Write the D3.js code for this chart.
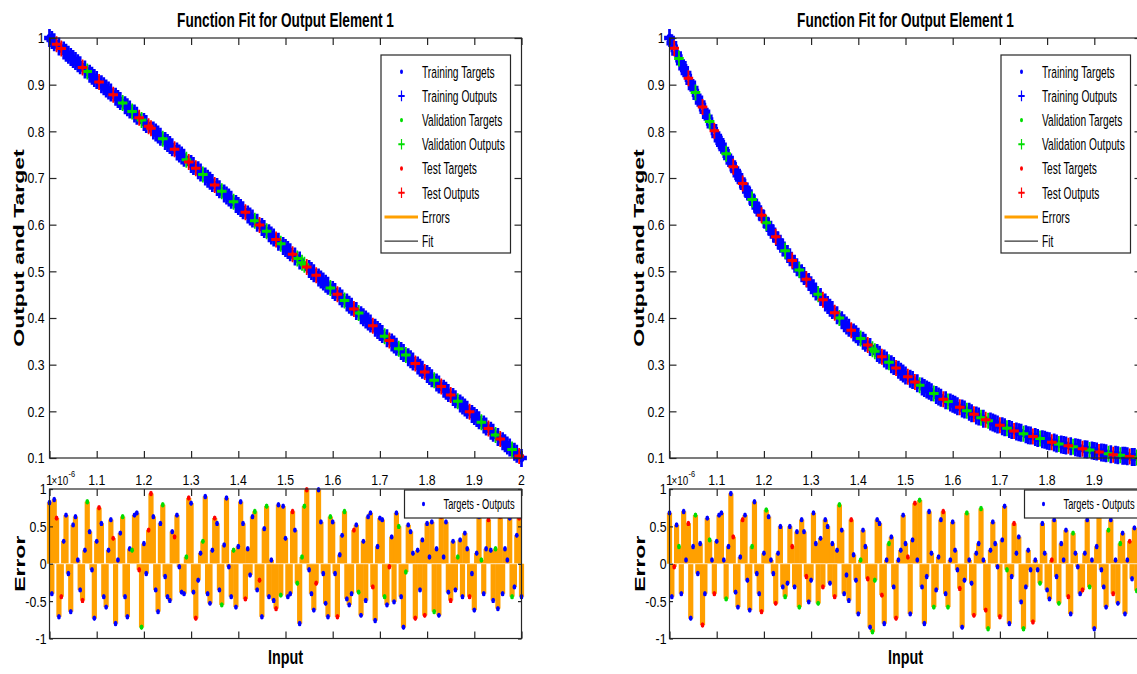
<!DOCTYPE html>
<html>
<head>
<meta charset="utf-8">
<script src="https://cdn.jsdelivr.net/npm/d3@7"></script>
<style>
  html, body { margin: 0; padding: 0; background: #fff; }
  svg { display: block; }
</style>
</head>
<body>
<script>
// ---------------- data ----------------
// Input samples (x 1e-6), shared by the fit and error plots
const inputs = [1.000,1.005,1.010,1.015,1.020,1.025,1.030,1.035,1.040,1.045,1.050,1.055,1.060,1.065,1.070,1.075,1.080,1.085,1.090,1.095,
1.100,1.105,1.110,1.115,1.120,1.125,1.130,1.135,1.140,1.145,1.150,1.155,1.160,1.165,1.170,1.175,1.180,1.185,1.190,1.195,
1.200,1.205,1.210,1.215,1.220,1.225,1.230,1.235,1.240,1.245,1.250,1.255,1.260,1.265,1.270,1.275,1.280,1.285,1.290,1.295,
1.300,1.305,1.310,1.315,1.320,1.325,1.330,1.335,1.340,1.345,1.350,1.355,1.360,1.365,1.370,1.375,1.380,1.385,1.390,1.395,
1.400,1.405,1.410,1.415,1.420,1.425,1.430,1.435,1.440,1.445,1.450,1.455,1.460,1.465,1.470,1.475,1.480,1.485,1.490,1.495,
1.500,1.505,1.510,1.515,1.520,1.525,1.530,1.535,1.540,1.545,1.550,1.555,1.560,1.565,1.570,1.575,1.580,1.585,1.590,1.595,
1.600,1.605,1.610,1.615,1.620,1.625,1.630,1.635,1.640,1.645,1.650,1.655,1.660,1.665,1.670,1.675,1.680,1.685,1.690,1.695,
1.700,1.705,1.710,1.715,1.720,1.725,1.730,1.735,1.740,1.745,1.750,1.755,1.760,1.765,1.770,1.775,1.780,1.785,1.790,1.795,
1.800,1.805,1.810,1.815,1.820,1.825,1.830,1.835,1.840,1.845,1.850,1.855,1.860,1.865,1.870,1.875,1.880,1.885,1.890,1.895,
1.900,1.905,1.910,1.915,1.920,1.925,1.930,1.935,1.940,1.945,1.950,1.955,1.960,1.965,1.970,1.975,1.980,1.985,1.990,1.995,2.000];

// Targets of the left (linear) network
const targetsLinear = [1.0000,0.9955,0.9910,0.9865,0.9820,0.9775,0.9730,0.9685,0.9640,0.9595,
0.9550,0.9505,0.9460,0.9415,0.9370,0.9325,0.9280,0.9235,0.9190,0.9145,
0.9100,0.9055,0.9010,0.8965,0.8920,0.8875,0.8830,0.8785,0.8740,0.8695,
0.8650,0.8605,0.8560,0.8515,0.8470,0.8425,0.8380,0.8335,0.8290,0.8245,
0.8200,0.8155,0.8110,0.8065,0.8020,0.7975,0.7930,0.7885,0.7840,0.7795,
0.7750,0.7705,0.7660,0.7615,0.7570,0.7525,0.7480,0.7435,0.7390,0.7345,
0.7300,0.7255,0.7210,0.7165,0.7120,0.7075,0.7030,0.6985,0.6940,0.6895,
0.6850,0.6805,0.6760,0.6715,0.6670,0.6625,0.6580,0.6535,0.6490,0.6445,
0.6400,0.6355,0.6310,0.6265,0.6220,0.6175,0.6130,0.6085,0.6040,0.5995,
0.5950,0.5905,0.5860,0.5815,0.5770,0.5725,0.5680,0.5635,0.5590,0.5545,
0.5500,0.5455,0.5410,0.5365,0.5320,0.5275,0.5230,0.5185,0.5140,0.5095,
0.5050,0.5005,0.4960,0.4915,0.4870,0.4825,0.4780,0.4735,0.4690,0.4645,
0.4600,0.4555,0.4510,0.4465,0.4420,0.4375,0.4330,0.4285,0.4240,0.4195,
0.4150,0.4105,0.4060,0.4015,0.3970,0.3925,0.3880,0.3835,0.3790,0.3745,
0.3700,0.3655,0.3610,0.3565,0.3520,0.3475,0.3430,0.3385,0.3340,0.3295,
0.3250,0.3205,0.3160,0.3115,0.3070,0.3025,0.2980,0.2935,0.2890,0.2845,
0.2800,0.2755,0.2710,0.2665,0.2620,0.2575,0.2530,0.2485,0.2440,0.2395,
0.2350,0.2305,0.2260,0.2215,0.2170,0.2125,0.2080,0.2035,0.1990,0.1945,
0.1900,0.1855,0.1810,0.1765,0.1720,0.1675,0.1630,0.1585,0.1540,0.1495,
0.1450,0.1405,0.1360,0.1315,0.1270,0.1225,0.1180,0.1135,0.1090,0.1045,
0.1000];

// Targets of the right (decaying) network
const targetsDecay = [1.000,0.989,0.978,0.967,0.956,0.946,0.935,0.925,0.914,0.904,
0.893,0.883,0.872,0.862,0.852,0.842,0.831,0.821,0.811,0.801,
0.790,0.781,0.771,0.762,0.752,0.743,0.733,0.724,0.715,0.706,
0.697,0.688,0.679,0.671,0.662,0.654,0.645,0.637,0.628,0.620,
0.612,0.604,0.596,0.589,0.581,0.574,0.566,0.559,0.551,0.544,
0.537,0.530,0.523,0.516,0.509,0.503,0.496,0.490,0.483,0.477,
0.470,0.464,0.457,0.451,0.445,0.439,0.433,0.428,0.422,0.417,
0.411,0.406,0.400,0.395,0.389,0.384,0.379,0.374,0.369,0.365,
0.360,0.356,0.351,0.347,0.342,0.338,0.333,0.329,0.325,0.321,
0.317,0.313,0.309,0.305,0.301,0.297,0.293,0.289,0.285,0.281,
0.277,0.274,0.270,0.267,0.263,0.260,0.256,0.253,0.250,0.247,
0.244,0.241,0.238,0.235,0.232,0.229,0.226,0.224,0.221,0.219,
0.216,0.214,0.211,0.209,0.206,0.204,0.201,0.199,0.196,0.194,
0.191,0.189,0.186,0.184,0.182,0.180,0.178,0.176,0.174,0.172,
0.170,0.168,0.166,0.164,0.162,0.160,0.158,0.157,0.155,0.154,
0.152,0.151,0.149,0.148,0.146,0.145,0.143,0.142,0.140,0.139,
0.137,0.136,0.134,0.133,0.131,0.130,0.129,0.128,0.127,0.126,
0.125,0.124,0.123,0.122,0.121,0.120,0.119,0.118,0.117,0.116,
0.115,0.114,0.113,0.112,0.111,0.110,0.109,0.108,0.107,0.107,
0.106,0.106,0.105,0.105,0.104,0.103,0.102,0.102,0.101,0.101,
0.100];

// Targets - Outputs, left network
const errorsLinear = [0.82,-0.40,0.86,0.61,-0.71,-0.44,0.30,0.65,-0.13,-0.64,
0.52,0.63,0.05,-0.35,-0.49,0.18,0.83,0.43,-0.08,-0.73,
0.30,0.75,0.54,-0.44,-0.58,0.18,0.59,0.34,-0.80,0.05,
0.41,0.63,-0.44,-0.71,0.20,0.18,0.65,0.68,-0.08,-0.85,
0.27,-0.13,0.45,0.94,0.63,-0.35,-0.64,0.54,0.79,-0.17,
-0.44,-0.49,0.43,0.36,0.65,-0.04,-0.38,-0.40,0.09,0.88,
0.81,-0.38,-0.73,-0.22,0.14,0.30,0.90,-0.40,-0.53,0.18,
0.61,0.54,-0.35,-0.55,0.25,0.88,-0.04,-0.44,0.18,-0.58,
0.23,0.83,0.54,-0.47,0.20,-0.15,0.63,0.70,-0.35,-0.22,
-0.71,0.47,0.77,-0.44,0.05,-0.49,-0.60,0.79,-0.42,0.77,
0.34,-0.44,-0.40,0.70,0.45,-0.26,-0.80,0.09,0.77,0.99,
-0.08,-0.40,-0.62,-0.26,0.99,0.56,-0.13,-0.53,-0.71,0.63,
0.56,-0.13,-0.71,0.12,0.38,0.70,-0.47,-0.55,-0.40,0.45,
0.52,-0.38,-0.69,0.30,-0.49,0.63,0.68,-0.31,-0.76,0.23,
0.61,0.59,-0.44,-0.55,-0.04,0.36,-0.51,0.68,0.50,-0.44,
-0.85,-0.11,0.52,0.43,0.14,-0.73,0.18,-0.35,0.32,-0.69,
0.54,0.09,0.56,-0.64,0.20,-0.69,0.63,0.09,0.56,-0.38,
-0.49,0.30,-0.35,0.09,0.32,-0.44,0.41,0.20,-0.44,-0.13,
-0.62,0.14,0.63,0.05,-0.40,0.20,0.59,0.18,-0.49,0.20,
-0.60,0.63,-0.40,0.20,0.05,0.61,-0.44,-0.31,0.38,0.61,
-0.44];

// Targets - Outputs, right network
const errorsDecay = [0.68,-0.44,-0.04,0.52,0.23,-0.40,0.70,0.05,0.54,-0.73,
0.23,0.65,-0.13,0.27,-0.82,-0.40,0.61,0.32,0.05,-0.40,
0.30,0.65,0.68,0.05,-0.47,0.23,0.94,0.36,-0.38,-0.58,
0.09,0.59,0.65,-0.22,-0.62,0.23,0.83,-0.13,-0.40,-0.64,
0.14,0.72,0.63,0.05,-0.13,-0.53,0.14,0.50,-0.31,-0.44,
-0.26,0.50,0.23,-0.31,0.43,-0.58,0.59,0.43,-0.17,-0.51,
-0.22,0.68,0.27,-0.53,0.34,-0.31,0.59,0.50,-0.26,0.27,
-0.44,0.18,0.79,0.45,-0.40,-0.15,-0.49,0.59,0.12,-0.22,
-0.67,0.05,0.45,0.23,-0.20,-0.85,-0.91,-0.22,0.59,0.54,
-0.42,-0.80,0.05,0.27,0.36,-0.31,-0.73,0.05,0.18,0.65,
0.27,0.09,-0.67,0.32,0.81,0.05,0.85,-0.31,-0.80,-0.17,
0.70,0.14,-0.58,-0.35,0.09,0.59,0.70,-0.40,-0.58,0.05,
0.56,0.18,-0.08,-0.33,-0.85,-0.22,0.68,0.05,-0.26,-0.69,
0.14,0.27,0.74,0.05,-0.62,-0.87,0.18,0.56,0.27,-0.04,
-0.71,0.32,0.77,-0.08,-0.80,-0.17,0.54,0.14,0.36,-0.51,
-0.87,-0.31,0.18,-0.08,-0.78,0.05,-0.08,-0.26,0.54,0.14,
-0.35,-0.47,0.05,0.59,-0.17,-0.53,0.27,0.05,0.45,-0.44,
-0.67,0.41,0.14,-0.04,-0.40,-0.35,0.14,0.59,-0.31,0.05,
-0.87,0.23,0.68,-0.08,-0.31,-0.58,0.45,0.59,-0.40,0.05,
-0.53,0.27,0.41,-0.67,0.05,0.30,-0.20,0.48,-0.36,0.22,
-0.50];

// Set of each sample: t = training, v = validation, r = test
const setsLinear = "tttrtrtttt" + "ttttrtvttt" + "trtttttrtt" + "tvtttvttrv" + "ttrrttttvt" +
  "tttrttttvr" + "ttrttvtttt" + "rttvttttvt" + "tttrtttvtr" + "ttvtttrtvt" +
  "tttrtvtvvr" + "tttrtttttv" + "ttrttvtttr" + "tvtttttrtt" + "ttvtrtttvt" +
  "tvtttrtttr" + "tttvttrttt" + "rttvttttrt" + "tttvttrttv" + "trttttvttr" + "t";
const setsDecay = "ttrtvtttrt" + "tvttrttvtr" + "ttttvttrtt" + "trtttvtttr" + "tvtttrtttv" +
  "ttrttvttrt" + "tttvtrtttt" + "rtvttttrtt" + "tvttrtvvtt" + "rttvttrttt" +
  "trttrtvttt" + "ttvtttrtvt" + "tttrttvttr" + "ttvtrvtttt" + "rttvttrttt" +
  "vtttrttvtt" + "ttrttvtttr" + "tvtttrttvt" + "ttrtttvtrt" + "tvtttrttvt" + "r";

// Axis ticks and labels
const inputTicks = [1, 1.1, 1.2, 1.3, 1.4, 1.5, 1.6, 1.7, 1.8, 1.9, 2];
const inputTickLabels = ["1", "1.1", "1.2", "1.3", "1.4", "1.5", "1.6", "1.7", "1.8", "1.9", "2"];
const fitTicks = [0.1, 0.2, 0.3, 0.4, 0.5, 0.6, 0.7, 0.8, 0.9, 1];
const fitTickLabels = ["0.1", "0.2", "0.3", "0.4", "0.5", "0.6", "0.7", "0.8", "0.9", "1"];
const errTicks = [-1, -0.5, 0, 0.5, 1];
const errTickLabels = ["-1", "-0.5", "0", "0.5", "1"];

const legendEntries = [
  { label: "Training Targets",   kind: "dot",  set: "t" },
  { label: "Training Outputs",   kind: "plus", set: "t" },
  { label: "Validation Targets", kind: "dot",  set: "v" },
  { label: "Validation Outputs", kind: "plus", set: "v" },
  { label: "Test Targets",       kind: "dot",  set: "r" },
  { label: "Test Outputs",       kind: "plus", set: "r" },
  { label: "Errors",             kind: "err" },
  { label: "Fit",                kind: "fit" }
];

// ---------------- styling ----------------
const FONT = "'Liberation Sans', Arial, Helvetica, sans-serif";
const setColor = { t: "#0000ff", v: "#00dd00", r: "#ff0000" };
const ORANGE = "#ffa000";
const AXIS = "#262626";

const W = 1137, H = 674;
const svg = d3.select("body").append("svg").attr("width", W).attr("height", H);

// text helper: horizontally condensed type
function label(sel, x, y, s, o) {
  const g = sel.append("g")
    .attr("transform", `translate(${x},${y}) scale(${o.sx || 1},1)` + (o.rot ? ` rotate(${o.rot})` : ""));
  g.append("text")
    .attr("text-anchor", o.anchor || "start")
    .attr("dy", o.dy || 0)
    .attr("font-family", FONT)
    .attr("font-size", o.size)
    .attr("font-weight", o.weight || "normal")
    .attr("fill", "#000")
    .text(s);
  return g;
}

// "+" marker drawn condensed
function plus(sel, x, y, color, r = 5.3, w = 2) {
  sel.append("path")
    .attr("transform", `translate(${x},${y}) scale(0.6,1)`)
    .attr("d", `M${-r},0H${r}M0,${-r}V${r}`)
    .attr("stroke", color).attr("stroke-width", w).attr("fill", "none");
}
function dot(sel, x, y, color, rx = 1.9, ry = 2.7) {
  sel.append("ellipse").attr("cx", x).attr("cy", y).attr("rx", rx).attr("ry", ry).attr("fill", color);
}

function panel(x0, targets, errors, sets) {
  const g = svg.append("g");
  const PW = 472;
  const x = d3.scaleLinear().domain([1, 2]).range([x0, x0 + PW]);
  const yF = d3.scaleLinear().domain([0.1, 1]).range([458, 38]);
  const yE = d3.scaleLinear().domain([-1, 1]).range([638.5, 489]);
  const TICK = 7;
  const styleAxis = a => { a.select(".domain").remove(); a.selectAll("line").attr("stroke", AXIS).attr("stroke-width", 1.2); };
  const frame = (sel, x1, y1, x2, y2) => sel.append("rect").attr("x", x1).attr("y", y1)
    .attr("width", x2 - x1).attr("height", y2 - y1).attr("fill", "none").attr("stroke", AXIS).attr("stroke-width", 1.2);
  const onCanvas = px => px < W - 4;

  // ---------- upper: function fit ----------
  const up = g.append("g");

  // fit curve underneath the markers
  up.append("path")
    .datum(inputs.map((v, i) => [v, targets[i]]))
    .attr("d", d3.line().x(d => x(d[0])).y(d => yF(d[1])))
    .attr("fill", "none").attr("stroke", "#000").attr("stroke-width", 1);

  ["t", "v", "r"].forEach(s => {
    const idx = inputs.map((_, i) => i).filter(i => sets[i] === s);
    const big = s === "t";
    idx.forEach(i => dot(up, x(inputs[i]), yF(targets[i]), setColor[s], big ? 3 : 1.6, big ? 4.2 : 2.3));
    idx.forEach(i => plus(up, x(inputs[i]), yF(targets[i]), setColor[s], big ? 9 : 8, big ? 4.5 : 3));
  });

  frame(up, x(1), yF(1), x(2), yF(0.1));
  up.append("g").attr("transform", `translate(0,${yF(0.1)})`)
    .call(d3.axisBottom(x).tickValues(inputTicks).tickSize(-TICK).tickFormat("")).call(styleAxis);
  up.append("g").attr("transform", `translate(0,${yF(1)})`)
    .call(d3.axisTop(x).tickValues(inputTicks).tickSize(-TICK).tickFormat("")).call(styleAxis);
  up.append("g").attr("transform", `translate(${x(1)},0)`)
    .call(d3.axisLeft(yF).tickValues(fitTicks).tickSize(-TICK).tickFormat("")).call(styleAxis);
  up.append("g").attr("transform", `translate(${x(2)},0)`)
    .call(d3.axisRight(yF).tickValues(fitTicks).tickSize(-TICK).tickFormat("")).call(styleAxis);

  fitTicks.forEach((t, i) => label(g, x(1) - 5, yF(t), fitTickLabels[i], { size: 15, sx: 0.82, anchor: "end", dy: "0.36em" }));
  inputTicks.forEach((t, i) => { if (onCanvas(x(t))) label(g, x(t), 485, inputTickLabels[i], { size: 15, sx: 0.82, anchor: "middle" }); });
  // exponent of the input axis
  label(g, x(1) + 2, 485, "\u00d710", { size: 12, sx: 0.82 });
  label(g, x(1) + 19, 476.5, "-6", { size: 9, sx: 0.82 });

  label(g, x(1) + PW / 2, 27, "Function Fit for Output Element 1", { size: 21, weight: "bold", sx: 0.65, anchor: "middle" });
  label(g, x(1) - 25.5, (yF(0.1) + yF(1)) / 2, "Output and Target", { size: 23, weight: "bold", sx: 0.62, anchor: "middle", rot: -90 });

  // legend
  const lx = x(1) + 331.5, ly = 55, lw = 129.5, lh = 198;
  const lg = g.append("g");
  lg.append("rect").attr("x", lx).attr("y", ly).attr("width", lw).attr("height", lh)
    .attr("fill", "#fff").attr("stroke", AXIS).attr("stroke-width", 1.2);
  legendEntries.forEach((e, i) => {
    const cy = 71.7 + i * 24.2;
    if (e.kind === "dot") dot(lg, lx + 20.5, cy, setColor[e.set], 1.5, 2.2);
    if (e.kind === "plus") plus(lg, lx + 20.5, cy, setColor[e.set]);
    if (e.kind === "err") lg.append("line").attr("x1", lx + 3.5).attr("x2", lx + 37).attr("y1", cy).attr("y2", cy)
      .attr("stroke", ORANGE).attr("stroke-width", 3);
    if (e.kind === "fit") lg.append("line").attr("x1", lx + 3.5).attr("x2", lx + 37).attr("y1", cy).attr("y2", cy)
      .attr("stroke", "#000").attr("stroke-width", 1);
    label(lg, lx + 41, cy, e.label, { size: 16.5, sx: 0.62, dy: "0.36em" });
  });

  // ---------- lower: errors ----------
  const lo = g.append("g");
  lo.selectAll("line.stem").data(errors).join("line").attr("class", "stem")
    .attr("x1", (d, i) => x(inputs[i])).attr("x2", (d, i) => x(inputs[i]))
    .attr("y1", yE(0)).attr("y2", d => yE(d))
    .attr("stroke", ORANGE).attr("stroke-width", 5.2);
  lo.append("line").attr("x1", x(1)).attr("x2", x(2)).attr("y1", yE(0)).attr("y2", yE(0))
    .attr("stroke", "#fff").attr("stroke-width", 1).attr("stroke-opacity", 0.7);
  ["t", "v", "r"].forEach(s => {
    errors.forEach((d, i) => { if (sets[i] === s) dot(lo, x(inputs[i]), yE(d), setColor[s]); });
  });

  frame(lo, x(1), yE(1), x(2), yE(-1));
  lo.append("g").attr("transform", `translate(0,${yE(-1)})`)
    .call(d3.axisBottom(x).tickValues(inputTicks).tickSize(-TICK).tickFormat("")).call(styleAxis);
  lo.append("g").attr("transform", `translate(0,${yE(1)})`)
    .call(d3.axisTop(x).tickValues(inputTicks).tickSize(-TICK).tickFormat("")).call(styleAxis);
  lo.append("g").attr("transform", `translate(${x(1)},0)`)
    .call(d3.axisLeft(yE).tickValues(errTicks).tickSize(-TICK / 2).tickFormat("")).call(styleAxis);
  lo.append("g").attr("transform", `translate(${x(2)},0)`)
    .call(d3.axisRight(yE).tickValues(errTicks).tickSize(-TICK / 2).tickFormat("")).call(styleAxis);

  errTicks.forEach((t, i) => label(g, x(1) - 3, yE(t), errTickLabels[i], { size: 15, sx: 0.82, anchor: "end", dy: "0.36em" }));
  label(g, x(1) - 24.5, yE(0), "Error", { size: 23, weight: "bold", sx: 0.62, anchor: "middle", rot: -90 });
  label(g, x(1) + PW / 2, 664, "Input", { size: 20, weight: "bold", sx: 0.72, anchor: "middle" });

  // error legend
  const ex = x(1) + 355, ey = 490;
  lo.append("rect").attr("x", ex).attr("y", ey).attr("width", x(2) - ex).attr("height", 28)
    .attr("fill", "#fff").attr("stroke", AXIS).attr("stroke-width", 1.2);
  dot(lo, ex + 19, ey + 14, setColor.t, 1.5, 2.2);
  label(lo, ex + 39, ey + 14, "Targets - Outputs", { size: 14.5, sx: 0.64, dy: "0.36em" });
}

panel(49.5, targetsLinear, errorsLinear, setsLinear);
panel(669.5, targetsDecay, errorsDecay, setsDecay);
</script>
</body>
</html>
